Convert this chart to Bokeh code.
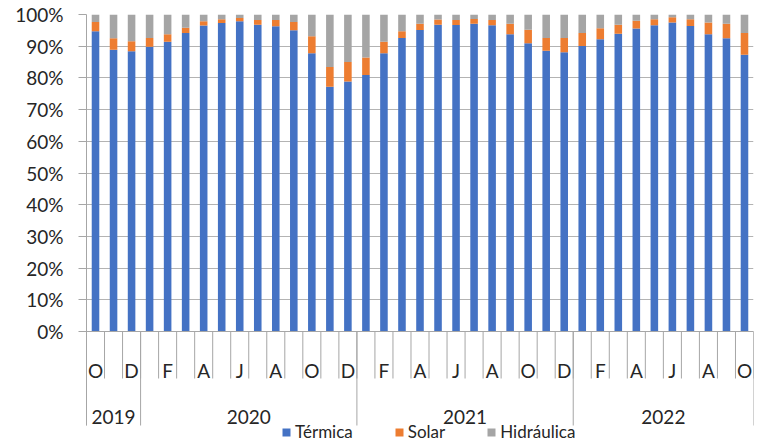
from bokeh.plotting import figure
from bokeh.models import (ColumnDataSource, Range1d, FixedTicker, Span,
                          Legend, LegendItem)
from bokeh.core.properties import value
from bokeh.embed import file_html
from bokeh.resources import INLINE

# ---------------- data ----------------
months = ["O", "N", "D",
          "J", "F", "M", "A", "M", "J", "J", "A", "S", "O", "N", "D",
          "J", "F", "M", "A", "M", "J", "J", "A", "S", "O", "N", "D",
          "J", "F", "M", "A", "M", "J", "J", "A", "S", "O"]
years = ["2019", "2020", "2021", "2022"]
year_counts = [3, 12, 12, 10]

termica = [94.7, 88.9, 88.4, 89.8, 91.4, 94.2, 96.5, 97.3, 97.9, 96.8, 96.3, 95.0,
           87.8, 77.2, 78.9, 80.9, 87.8, 92.6, 95.1, 96.8, 96.7, 97.1, 96.6, 93.8,
           90.9, 88.6, 88.1, 90.1, 92.2, 93.9, 95.6, 96.6, 97.5, 96.4, 93.8, 92.5, 87.3]
solar = [2.9, 3.6, 3.2, 2.8, 2.4, 1.6, 1.4, 1.2, 1.0, 1.5, 2.0, 2.6,
         5.3, 6.2, 6.1, 5.5, 3.6, 2.1, 2.0, 1.6, 1.6, 1.5, 1.7, 3.3,
         4.3, 4.0, 4.5, 4.1, 3.5, 2.9, 2.4, 1.9, 1.6, 2.1, 3.7, 4.6, 6.9]
hidraulica = [2.4, 7.5, 8.4, 7.4, 6.2, 4.2, 2.1, 1.5, 1.1, 1.7, 1.7, 2.4,
              6.9, 16.6, 15.0, 13.6, 8.6, 5.3, 2.9, 1.6, 1.7, 1.4, 1.7, 2.9,
              4.8, 7.4, 7.4, 5.8, 4.3, 3.2, 2.0, 1.5, 0.9, 1.5, 2.5, 2.9, 5.8]

series_names = ["Térmica", "Solar", "Hidráulica"]
series_colors = ["#4472C4", "#ED7D31", "#A5A5A5"]

y_ticks = [0, 10, 20, 30, 40, 50, 60, 70, 80, 90, 100]
y_labels = ["0%", "10%", "20%", "30%", "40%", "50%", "60%", "70%", "80%", "90%", "100%"]

# ---------------- style / layout ----------------
FONT = "Lato"
TXT = "#262626"
AXC = "#a6a6a6"
GRIDC = "#b3b3b3"

W, H = 762, 442
TOP, BOTTOM_PAD, LEFT, RIGHT = 14, 0, 86, 9
PLOT_PX = 317.0                         # pixels for 0..100 %
PX = PLOT_PX / 100.0
FRAME_H = H - TOP - BOTTOM_PAD
Y_MIN = 100 - FRAME_H / PX              # extra room under 0 for the category axis

MONTH_LINE = -47 / PX                   # month separators depth
MONTH_BASE = -39 / PX                   # month letters baseline
YEAR_BASE = -85 / PX                    # year labels baseline
YEAR_LINE = -94 / PX                    # year separators depth

n = len(months)
x = list(range(n))
src = ColumnDataSource(dict(x=x, termica=termica, solar=solar, hidraulica=hidraulica))

p = figure(width=W, height=H, output_backend="svg", toolbar_location=None,
           x_range=Range1d(-0.5, n - 0.5), y_range=Range1d(Y_MIN, 100),
           x_axis_type=None,
           min_border_left=LEFT, min_border_right=RIGHT, min_border_top=TOP,
           min_border_bottom=BOTTOM_PAD)
p.outline_line_color = None
p.background_fill_color = "white"

rs = p.vbar_stack(["termica", "solar", "hidraulica"], x="x", width=0.42,
                  color=series_colors, line_color=None, source=src)

# y axis
ya = p.yaxis[0]
ya.ticker = FixedTicker(ticks=y_ticks)
ya.bounds = (YEAR_LINE, 100)
ya.major_label_overrides = {t: l for t, l in zip(y_ticks, y_labels)}
ya.major_tick_out = 8
ya.major_tick_in = 0
ya.minor_tick_out = 0
ya.minor_tick_in = 0
ya.axis_line_color = AXC
ya.major_tick_line_color = AXC
ya.major_label_standoff = 15
ya.major_label_text_font = FONT
ya.major_label_text_font_size = "19px"
ya.major_label_text_color = TXT
p.ygrid.grid_line_color = GRIDC
p.ygrid.ticker = FixedTicker(ticks=y_ticks)

# horizontal category axis line
p.add_layout(Span(location=0, dimension="width", line_color=AXC, line_width=1))

# month level: separators at every month boundary, letters every other month
bounds = [i - 0.5 for i in range(n + 1)]
p.segment(x0=bounds, y0=[0] * len(bounds), x1=bounds, y1=[MONTH_LINE] * len(bounds),
          line_color=AXC, line_width=1)
label_pos = [i for i in range(n) if i % 2 == 0]
p.text(x=label_pos, y=[MONTH_BASE] * len(label_pos), text=[months[i] for i in label_pos],
       text_font=value(FONT), text_font_size="19px", text_color=TXT,
       text_align="center", text_baseline="alphabetic")

# year level
year_bounds = [-0.5]
year_centers = []
start = -0.5
for c in year_counts:
    year_centers.append(start + c / 2.0)
    start += c
    year_bounds.append(start)
p.segment(x0=year_bounds, y0=[0] * len(year_bounds), x1=year_bounds,
          y1=[YEAR_LINE] * len(year_bounds), line_color=AXC, line_width=1)
p.text(x=year_centers, y=[YEAR_BASE] * len(year_centers), text=years,
       text_font=value(FONT), text_font_size="19px", text_color=TXT,
       text_align="center", text_baseline="alphabetic")

legend = Legend(items=[LegendItem(label=nm, renderers=[r]) for nm, r in zip(series_names, rs)],
                orientation="horizontal", location=(195, 0),
                glyph_width=10, glyph_height=10, label_standoff=4, spacing=41,
                padding=0, margin=0, border_line_color=None,
                background_fill_alpha=0,
                label_text_font=FONT, label_text_font_size="17px",
                label_text_color=TXT)
p.add_layout(legend)

open("out.html", "w").write(file_html(p, INLINE))
